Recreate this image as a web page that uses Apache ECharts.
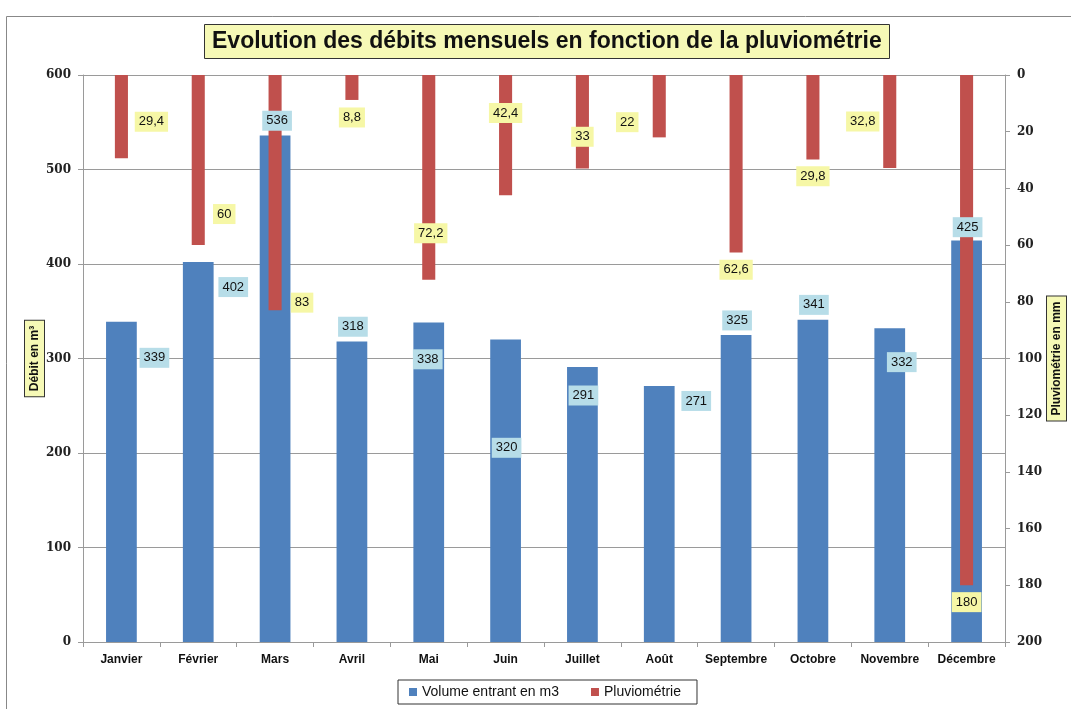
<!DOCTYPE html>
<html>
<head>
<meta charset="utf-8">
<script src="https://cdn.jsdelivr.net/npm/echarts@6/dist/echarts.min.js"></script>
<style>
  html, body { margin: 0; padding: 0; background: #fff; }
  #chart { width: 1071px; height: 709px; }
</style>
</head>
<body>
<div id="chart"></div>
<script>
const months = ['Janvier', 'Février', 'Mars', 'Avril', 'Mai', 'Juin', 'Juillet', 'Août', 'Septembre', 'Octobre', 'Novembre', 'Décembre']
const debit = [339, 402, 536, 318, 338, 320, 291, 271, 325, 341, 332, 425]
const pluvio = [29.4, 60, 83, 8.8, 72.2, 42.4, 33, 22, 62.6, 29.8, 32.8, 180]

// label nudges (px from bar centre), placed by hand like in the original sheet
const debitLabelShift = [[33, -124], [35, -165], [2, -268], [1, -165], [-1, -123], [1, -43], [1, -109], [37, -113], [1, -168], [1, -176], [12, -123], [1, -214]]
const pluvioLabelShift = [[30, 5], [26, 54], [27, 110], [0, 30], [2, 56], [0, -22], [0, 15], [-32, 16], [0, 106], [0, 59], [-27, 0], [0, 272]]

const chart = echarts.init(document.getElementById('chart'))
const grey = '#9a9a9a'
const labelFont = 'Liberation Sans, Arial, sans-serif'
const tickFont = { color: '#222', fontFamily: 'DejaVu Serif, serif', fontWeight: 'bold', fontSize: 12 }
const nameBox = {
  color: '#111', fontFamily: labelFont, fontWeight: 'bold', fontSize: 12,
  backgroundColor: '#f6f9b6', borderColor: '#333', borderWidth: 1, padding: [4, 5, 3, 5],
}

const fmt = (v) => String(v).replace('.', ',')

chart.setOption({
  animation: false,
  title: {
    text: 'Evolution des débits mensuels en fonction de la pluviométrie',
    left: 204, top: 24,
    padding: [6, 8, 6, 8],
    backgroundColor: '#f6f9b6', borderColor: '#333', borderWidth: 1,
    textStyle: { fontFamily: labelFont, fontWeight: 'bold', fontSize: 23, color: '#111' },
  },
  graphic: [{
    type: 'rect', left: 4, top: 14, silent: true,
    shape: { width: 1100, height: 800 },
    style: { fill: 'none', stroke: '#888', lineWidth: 1 },
  }],
  legend: {
    left: 398, top: 680,
    padding: [5, 16, 5, 11],
    itemGap: 32, itemWidth: 8, itemHeight: 8,
    borderColor: '#333', borderWidth: 1,
    icon: 'rect',
    textStyle: { fontFamily: labelFont, fontSize: 14, color: '#111' },
    data: ['Volume entrant en m3', 'Pluviométrie'],
  },
  grid: { left: 83, right: 66, top: 75, bottom: 67, outerBoundsMode: 'none', containLabel: false },
  xAxis: [
    {
      type: 'category', data: months,
      axisLine: { lineStyle: { color: grey } },
      axisTick: { show: true, length: 5, lineStyle: { color: grey } },
      axisLabel: { interval: 0, color: '#111', fontFamily: labelFont, fontWeight: 'bold', fontSize: 12, margin: 12 },
    },
    { type: 'category', data: months, show: false },
  ],
  yAxis: [
    {
      type: 'value', min: 0, max: 600, interval: 100,
      name: 'Débit en m³', nameLocation: 'middle', nameRotate: 90, nameGap: 39, nameMoveOverlap: false,
      nameTextStyle: nameBox,
      axisLine: { show: true, lineStyle: { color: grey } },
      axisTick: { show: true, length: 5, lineStyle: { color: grey } },
      axisLabel: { ...tickFont, margin: 12 },
      splitLine: { lineStyle: { color: grey } },
    },
    {
      type: 'value', min: 0, max: 200, interval: 20, inverse: true, position: 'right',
      name: 'Pluviométrie en mm', nameLocation: 'middle', nameRotate: 90, nameGap: 42, nameMoveOverlap: false,
      nameTextStyle: nameBox,
      axisLine: { show: true, lineStyle: { color: grey } },
      axisTick: { show: true, length: 5, lineStyle: { color: grey } },
      axisLabel: { ...tickFont, margin: 12 },
      splitLine: { show: false },
    },
  ],
  series: [
    {
      name: 'Volume entrant en m3', type: 'bar', xAxisIndex: 0, yAxisIndex: 0,
      barWidth: '40%',
      itemStyle: { color: '#4f81bd' },
      label: {
        show: true, position: 'inside', color: '#111', fontFamily: labelFont, fontSize: 13,
        backgroundColor: '#b7dde8', padding: [4, 4, 3, 4],
      },
      data: debit.map((v, i) => ({ value: v, label: { offset: debitLabelShift[i] } })),
    },
    {
      name: 'Pluviométrie', type: 'bar', xAxisIndex: 1, yAxisIndex: 1,
      barWidth: '17%',
      itemStyle: { color: '#c0504d' },
      label: {
        show: true, position: 'inside', color: '#111', fontFamily: labelFont, fontSize: 13,
        backgroundColor: '#f6f7a6', padding: [4, 4, 3, 4],
        formatter: (p) => fmt(p.value),
      },
      data: pluvio.map((v, i) => ({ value: v, label: { offset: pluvioLabelShift[i] } })),
    },
  ],
})
</script>
</body>
</html>
